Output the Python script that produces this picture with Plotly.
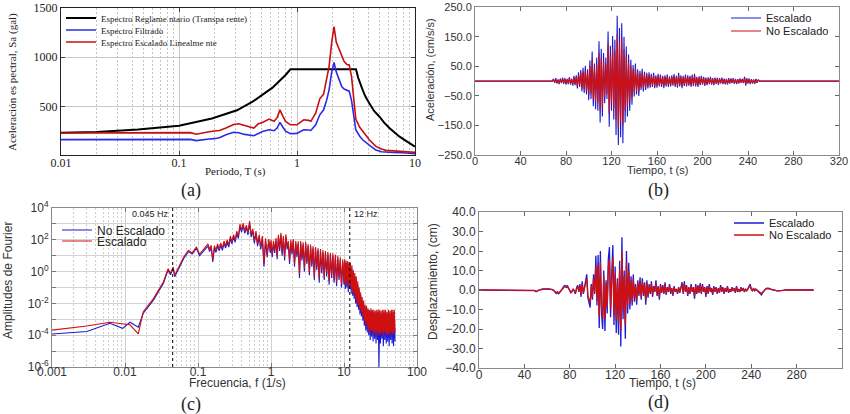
import numpy as np
import plotly.graph_objects as go

W, H = 850, 414
def px(x): return x / W
def py(y): return 1 - y / H

# ---------------- (a) response spectra ----------------
T_code = [0.01, 0.02, 0.045, 0.1, 0.19, 0.31, 0.42, 0.62, 0.80, 0.88, 3.16, 3.3, 3.6, 3.8,
          4.1, 4.5, 5.0, 5.5, 6.1, 6.7, 7.4, 8.2, 9.0, 10.0]
Sa_code = [235, 243, 268, 305, 378, 462, 548, 690, 818, 876, 876, 790, 667, 600,
           532, 455, 397, 335, 280, 235, 195, 160, 128, 95]

T_spec = [0.01, 0.05, 0.1, 0.125, 0.14, 0.155, 0.18, 0.2, 0.22, 0.25, 0.29, 0.32, 0.36, 0.43,
          0.47, 0.51, 0.58, 0.64, 0.68, 0.717, 0.76, 0.80, 0.88, 1.0, 1.08, 1.14, 1.25, 1.31,
          1.44, 1.56, 1.68, 1.78, 1.87, 1.97, 2.06, 2.15, 2.28, 2.4, 2.51, 2.65, 2.77, 2.9,
          3.15, 3.4, 3.6, 4.1, 4.66, 5.2, 5.69, 6.5, 7.9, 9.0, 10.0]
Sa_filtrado = [165, 165, 166, 168, 155, 165, 172, 175, 185, 215, 240, 235, 218, 205,
               228, 248, 265, 255, 285, 339, 290, 250, 225, 228, 250, 265, 262, 258,
               315, 416, 466, 560, 668, 850, 944, 850, 769, 700, 676, 662, 655, 560,
               265, 200, 164, 110, 60, 42, 37, 35, 33, 25, 22]
Sa_escalado = [232, 232, 234, 236, 220, 232, 245, 252, 258, 282, 318, 325, 305, 282,
               325, 339, 373, 350, 390, 466, 400, 350, 315, 315, 345, 366, 360, 350,
               433, 578, 625, 760, 903, 1150, 1306, 1150, 1071, 1000, 954, 925, 920, 802,
               373, 290, 248, 164, 97, 70, 57, 52, 47, 40, 37]

# ---------------- (b) acceleration time histories (t = 68 ... 250 s, 1 s step) ----------------
acc_t_start = 68
acc_escalado = [
    0, 8, -6, 10, -8, 6, -10, 9, -7, 12,
    -9, 10, -12, 8, -10, 14, -12, 9, -15, 18,
    -14, 20, -25, 30, -20, 38, -35, 45, -40, 52,
    -45, 40, -65, 70, -60, 100, -85, 60, -95, 80,
    -100, 135, -140, 110, -120, 95, -75, 80, -60, 168,
    -154, 120, -100, 153, -130, 140, -182, 221, -216, 180,
    -190, 196, -210, 150, -140, 117, -120, 90, -100, 72,
    -80, 55, -52, 60, -45, 40, -50, 35, -30, 42,
    -35, 32, -30, 28, -25, 30, -22, 25, -20, 28,
    -24, 20, -22, 25, -18, 22, -20, 18, -24, 20,
    -18, 22, -20, 16, -18, 20, -15, 24, -20, 18,
    -22, 28, -18, 20, -24, 18, -16, 22, -18, 20,
    -15, 18, -20, 22, -16, 25, -18, 15, -20, 16,
    -14, 18, -12, 15, -16, 12, -14, 13, -10, 15,
    -12, 10, -14, 12, -9, 11, -13, 10, -8, 12,
    -10, 9, -11, 8, -12, 10, -8, 9, -7, 10,
    -9, 8, -10, 7, -8, 9, -6, 8, -7, 15,
    -15, 10, -8, 9, -10, 7, -8, 6, -9, 8,
    -6, 5, 0]
acc_no_escalado = [
    0, 6, -4, 7, -6, 4, -7, 6, -5, 8,
    -6, 7, -8, 6, -7, 10, -8, 6, -10, 13,
    -10, 14, -18, 21, -14, 27, -25, 32, -28, 37,
    -32, 28, -46, 50, -43, 72, -60, 43, -68, 57,
    -71, 96, -100, 78, -86, 68, -54, 57, -43, 125,
    -110, 86, -71, 109, -93, 100, -130, 158, -160, 128,
    -136, 145, -150, 107, -100, 84, -86, 64, -71, 51,
    -57, 39, -37, 43, -32, 29, -36, 25, -21, 30,
    -25, 23, -21, 20, -18, 21, -16, 18, -14, 20,
    -17, 14, -16, 18, -13, 16, -14, 13, -17, 14,
    -13, 16, -14, 11, -13, 14, -11, 17, -14, 13,
    -16, 20, -13, 14, -17, 13, -11, 16, -13, 14,
    -11, 13, -14, 16, -11, 18, -13, 11, -14, 11,
    -10, 13, -9, 11, -11, 9, -10, 9, -7, 11,
    -9, 7, -10, 9, -6, 8, -9, 7, -6, 9,
    -7, 6, -8, 6, -9, 7, -6, 6, -5, 7,
    -6, 6, -7, 5, -6, 6, -4, 6, -5, 11,
    -11, 7, -6, 6, -7, 5, -6, 4, -6, 6,
    -4, 4, 0]
acc_t_end = 320

# ---------------- (c) Fourier amplitude spectra ----------------
f_low = [0.001, 0.003, 0.0062, 0.0093, 0.0117, 0.0152, 0.0178, 0.0245, 0.0335, 0.039,
         0.042, 0.0457, 0.048, 0.056, 0.064, 0.074, 0.083, 0.095, 0.105, 0.115]
fa_no_esc_low = [1.2e-4, 1.7e-4, 5.6e-4, 2.7e-4, 6.5e-4, 3.2e-4, 2.4e-3, 1.6e-2, 0.18, 1.3,
                 0.63, 1.6, 0.48, 2.0, 6.9, 18, 12.6, 29, 10, 16]
fa_esc_low = [2.1e-4, 3.8e-4, 6.5e-4, 5.0e-4, 4.5e-4, 1.2e-4, 3.0e-3, 2.0e-2, 0.22, 1.5,
              0.8, 1.9, 0.6, 2.5, 8.5, 22, 15, 35, 13, 20]
# band sampled at log-spaced frequencies 0.137-0.98 Hz
fa_no_esc_b1 = [40, 18, 32, 4, 30, 16, 40, 20, 45, 22, 60, 30, 70, 35, 120, 55, 150, 70, 250, 120,
                700, 300, 800, 250, 600, 200, 1100, 150, 350, 60, 250, 40, 150, 25, 120, 2, 90, 8, 80, 15]
fa_esc_b1 = [55, 25, 45, 5.5, 42, 22, 56, 28, 63, 30, 84, 42, 98, 49, 170, 77, 210, 98, 350, 170,
             980, 420, 1100, 350, 840, 280, 1500, 210, 490, 84, 350, 56, 210, 35, 170, 3, 125, 11, 110, 21]
# 1-10 Hz
fa_no_esc_b2 = [70, 8, 60, 15, 90, 6, 150, 20, 200, 10, 120, 5, 160, 25, 60, 3, 70, 12, 80, 2,
                60, 8, 55, 0.4, 60, 5, 50, 1.0, 55, 3, 40, 0.6, 35, 2, 28, 0.3, 25, 1.2, 22, 0.2,
                18, 0.8, 16, 0.3, 14, 0.5, 12, 0.15, 11, 0.4, 10, 0.2, 8, 0.12, 7, 0.3, 5, 0.1, 4, 0.15]
fa_esc_b2 = [100, 12, 85, 22, 130, 9, 210, 30, 280, 15, 170, 8, 220, 35, 85, 5, 100, 18, 110, 3,
             85, 12, 80, 0.7, 85, 7, 70, 1.5, 75, 4, 55, 0.9, 50, 3, 40, 0.5, 35, 1.8, 30, 0.35,
             26, 1.2, 23, 0.5, 20, 0.7, 17, 0.25, 15, 0.6, 14, 0.3, 12, 0.2, 10, 0.45, 8, 0.15, 6, 0.2]
# 10.2-50 Hz
fa_no_esc_b3 = [4, 0.08, 3.5, 0.1, 3, 0.05, 3, 0.08, 2.5, 0.04,
                1.5, 0.03, 0.8, 0.02, 0.5, 0.01, 0.3, 0.006, 0.15, 0.004,
                0.06, 0.002, 0.03, 0.0015, 0.015, 0.0008, 0.01, 0.0004, 0.006, 0.0002,
                0.005, 0.00015, 0.004, 0.0001, 0.003, 0.00005, 0.0035, 0.00008, 0.003, 0.00004,
                0.003, 0.00006, 0.0025, 0.00003, 0.003, 0.00005, 0.0028, 0.000001, 0.003, 0.00003,
                0.0025, 0.00006, 0.003, 0.00002, 0.0028, 0.00005, 0.003, 0.00003, 0.0022, 0.00004,
                0.003, 0.00002, 0.0025, 0.00005, 0.003, 0.00003, 0.0028, 0.00002, 0.003, 0.00004]
fa_esc_b3 = [6, 0.15, 5, 0.2, 4.5, 0.1, 4, 0.15, 3.5, 0.08,
             2.5, 0.05, 1.2, 0.04, 0.8, 0.02, 0.5, 0.01, 0.25, 0.008,
             0.1, 0.004, 0.05, 0.003, 0.025, 0.0015, 0.015, 0.0008, 0.008, 0.0005,
             0.007, 0.0003, 0.005, 0.0002, 0.004, 0.00015, 0.005, 0.0002, 0.004, 0.00012,
             0.004, 0.00015, 0.0035, 0.0001, 0.004, 0.00015, 0.004, 0.0001, 0.004, 0.00012,
             0.0035, 0.00015, 0.004, 0.0001, 0.004, 0.00015, 0.004, 0.0001, 0.003, 0.00012,
             0.004, 0.0001, 0.0035, 0.00015, 0.004, 0.0001, 0.004, 0.00012, 0.004, 0.00015]
band_edges = [(0.137, 0.98), (1.0, 10.0), (10.2, 50.0)]
filter_freqs = [0.045, 12]
filter_labels = ["0.045 Hz", "12 Hz"]

# ---------------- (d) displacement time histories (t = 45 ... 272 s, 1 s step) ----------------
disp_t_start = 45
disp_escalado = [
    0, 0, 0, 0, -0.3, -0.8, -0.8, -0.3, 0, 0.3,
    0.5, 0.6, 0.5, 0.5, 0.6, 0.8, 0.8, 0.6, 0.4, 0.3,
    0.2, -0.3, -1.0, -1.8, -1.2, -2.0, -1.5, -0.5, 0.5, 1.0,
    2.0, 2.3, 1.8, 2.2, 1.0, -0.5, -1.5, -0.8, 0.5, -0.5,
    -2.0, 1.0, 2.5, -1.0, 3.0, -3.5, 4.5, -2.0, 1.5, 6.0,
    8.0, -4.0, -6.0, -9.0, 3.0, -5.0, 8.0, -2.0, 17.5, -8.0,
    18.0, -19.5, 20.0, -12.0, -20.0, 10.0, -21.0, 5.0, -12.0, 16.0,
    22.0, -14.0, 8.0, 23.0, -18.0, 12.0, -22.0, 6.0, -23.0, 15.0,
    -29.0, 27.0, -15.0, 10.0, -25.0, 20.0, -12.0, 14.0, -10.0, 7.0,
    -8.0, 8.0, -6.0, 3.0, -7.5, 5.0, -3.0, 6.5, -5.0, 6.0,
    -3.0, 4.0, -7.5, 5.0, -4.0, 3.0, -2.0, 4.5, -3.5, 2.0,
    -1.0, 5.0, -3.0, 2.0, -5.0, 3.0, -1.5, 2.5, -2.0, 4.0,
    -2.5, 1.5, -1.0, 3.0, -2.0, 1.0, -3.0, 2.0, -1.0, 0.5,
    -2.0, 1.5, -1.5, 2.0, 4.0, -2.0, 4.5, -1.0, 2.5, -3.0,
    1.5, -2.0, 3.0, -1.0, 1.5, -4.5, 3.0, -2.0, 2.5, -1.5,
    3.5, -2.0, 3.0, -1.0, 1.5, -3.5, 2.0, -2.0, 3.0, -1.0,
    1.0, -2.5, 2.0, -1.0, 1.5, -2.0, 1.0, -1.5, 2.5, -1.0,
    1.5, -2.0, 1.0, -1.0, 2.0, -1.5, 0.5, -1.0, 1.5, -0.5,
    1.0, -1.5, 2.0, -1.0, 0.5, -1.0, 1.5, -0.5, 1.0, -1.0,
    0.5, -0.5, 1.0, 2.5, 3.0, 0.5, -0.5, 1.0, -0.5, 0.5,
    0.0, -1.0, -1.5, -2.0, -2.5, -1.5, -0.5, 0.3, 0.8, 1.0,
    1.0, 0.8, 0.5, 0.3, 0.0, -0.2, -0.4, -0.5, -0.5, -0.5,
    -0.5, -0.4, -0.3, -0.2, -0.1, 0.0, 0.0, 0.0]
disp_no_escalado = [
    0, 0, 0, 0, -0.2, -0.6, -0.6, -0.2, 0, 0.2,
    0.4, 0.4, 0.4, 0.4, 0.4, 0.6, 0.6, 0.4, 0.3, 0.2,
    0.1, -0.2, -0.7, -1.3, -0.9, -1.4, -1.1, -0.4, 0.4, 0.7,
    1.4, 1.7, 1.3, 1.6, 0.7, -0.4, -1.1, -0.6, 0.4, -0.4,
    -1.4, 0.7, 1.8, -0.7, 2.2, -2.5, 3.2, -1.4, 1.1, 4.3,
    5.8, -2.9, -4.3, -6.5, 2.2, -3.6, 5.8, -1.4, 12.6, -5.8,
    13.0, -14.0, 14.4, -8.6, -14.4, 7.2, -15.1, 3.6, -8.6, 11.5,
    15.8, -10.1, 5.8, 16.6, -13.0, 8.6, -15.8, 4.3, -16.6, 10.8,
    -20.9, 19.4, -10.8, 7.2, -18.0, 14.4, -8.6, 10.1, -7.2, 5.0,
    -5.8, 5.8, -4.3, 2.2, -5.4, 3.6, -2.2, 4.7, -3.6, 4.3,
    -2.2, 2.9, -5.4, 3.6, -2.9, 2.2, -1.4, 3.2, -2.5, 1.4,
    -0.7, 3.6, -2.2, 1.4, -3.6, 2.2, -1.1, 1.8, -1.4, 2.9,
    -1.8, 1.1, -0.7, 2.2, -1.4, 0.7, -2.2, 1.4, -0.7, 0.4,
    -1.4, 1.1, -1.1, 1.4, 2.9, -1.4, 3.2, -0.7, 1.8, -2.2,
    1.1, -1.4, 2.2, -0.7, 1.1, -3.2, 2.2, -1.4, 1.8, -1.1,
    2.5, -1.4, 2.2, -0.7, 1.1, -2.5, 1.4, -1.4, 2.2, -0.7,
    0.7, -1.8, 1.4, -0.7, 1.1, -1.4, 0.7, -1.1, 1.8, -0.7,
    1.1, -1.4, 0.7, -0.7, 1.4, -1.1, 0.4, -0.7, 1.1, -0.4,
    0.7, -1.1, 1.4, -0.7, 0.4, -0.7, 1.1, -0.4, 0.7, -0.7,
    0.4, -0.4, 0.7, 1.8, 2.2, 0.4, -0.4, 0.7, -0.4, 0.4,
    0.0, -0.7, -1.1, -1.4, -1.8, -1.1, -0.4, 0.2, 0.6, 0.7,
    0.7, 0.6, 0.4, 0.2, 0.0, -0.1, -0.3, -0.4, -0.4, -0.4,
    -0.4, -0.3, -0.2, -0.1, -0.1, 0.0, 0.0, 0.0]
disp_t_end = 295

# ---------------- styles ----------------
BLUE = "#1a1ad6"
RED = "#d01010"
SERIF = "Liberation Serif"
SANS = "Liberation Sans"

def series_time(t0, vals, t_end):
    t = [0, t0 - 1] + [t0 + i for i in range(len(vals))] + [t0 + len(vals), t_end]
    v = [0, 0] + list(vals) + [0, 0]
    return t, v

def band_freqs(edges, n):
    return list(np.geomspace(edges[0], edges[1], n))

f_all = (f_low + band_freqs(band_edges[0], len(fa_no_esc_b1))
         + band_freqs(band_edges[1], len(fa_no_esc_b2))
         + band_freqs(band_edges[2], len(fa_no_esc_b3)))
fa_no_esc = fa_no_esc_low + fa_no_esc_b1 + fa_no_esc_b2 + fa_no_esc_b3
fa_esc = fa_esc_low + fa_esc_b1 + fa_esc_b2 + fa_esc_b3

fig = go.Figure()

def add(x, y, name, color, width, xa, ya, leg):
    fig.add_trace(go.Scatter(x=x, y=y, mode="lines", line=dict(color=color, width=width),
                             name=name, xaxis=xa, yaxis=ya, legend=leg, showlegend=True))

# (a)
add(T_code, Sa_code, "Espectro Reglame ntario (Transpa rente)", "black", 2, "x", "y", "legend")
add(T_spec, Sa_filtrado, "Espectro Filtrado", "#2a2ae8", 1.6, "x", "y", "legend2")
add(T_spec, Sa_escalado, "Espectro Escalado Linealme nte", "#c80f0f", 1.6, "x", "y", "legend3")

# (b)
tb, vb = series_time(acc_t_start, acc_escalado, acc_t_end)
tb2, vb2 = series_time(acc_t_start, acc_no_escalado, acc_t_end)
add(tb, vb, "Escalado", BLUE, 1.1, "x2", "y2", "legend4")
add(tb2, vb2, "No Escalado", RED, 1.1, "x2", "y2", "legend5")

# (c)
add(f_all, fa_no_esc, "No Escalado", BLUE, 1.1, "x3", "y3", "legend6")
add(f_all, fa_esc, "Escalado", RED, 1.1, "x3", "y3", "legend7")

# (d)
td, vd = series_time(disp_t_start, disp_escalado, disp_t_end)
td2, vd2 = series_time(disp_t_start, disp_no_escalado, disp_t_end)
add(td, vd, "Escalado", BLUE, 1.3, "x4", "y4", "legend8")
add(td2, vd2, "No Escalado", RED, 1.3, "x4", "y4", "legend9")

def minor_log(d0, d1):
    return [k * 10.0 ** e for e in range(d0, d1) for k in range(2, 10)]

GRID = "#d2d2d2"
frame_a = dict(showline=True, linecolor="#222", linewidth=1, mirror="ticks", ticks="inside",
               ticklen=4, tickcolor="#444", zeroline=False, automargin=False)
frame_t = dict(showline=True, linecolor="#8a8a8a", linewidth=1, mirror="ticks", ticks="inside",
               ticklen=4, tickcolor="#666", zeroline=False, showgrid=False, automargin=False)
frame_c = dict(showline=True, linecolor="#8a8a8a", linewidth=1, mirror="ticks", ticks="inside",
               ticklen=4, tickcolor="#777", zeroline=False, automargin=False)

def leg(x_text, y_row, family, size):
    return dict(x=px(x_text - 41), y=py(y_row), xanchor="left", yanchor="middle",
                bgcolor="rgba(0,0,0,0)", borderwidth=0,
                font=dict(family=family, size=size, color="#222"), tracegroupgap=0)

fig.update_layout(
    template="none", showlegend=True,
    width=W, height=H, margin=dict(l=0, r=0, t=0, b=0, autoexpand=False),
    paper_bgcolor="white", plot_bgcolor="white",
    xaxis=dict(domain=[px(61), px(415)], anchor="y", type="log", range=[-2, 1],
               tickvals=[0.01, 0.1, 1, 10], ticktext=["0.01", "0.1", "1", "10"],
               showgrid=True, gridcolor="#c8c8c8", ticklabelstandoff=-3,
               minor=dict(tickvals=minor_log(-2, 1), showgrid=True, griddash="2px,2px",
                          gridcolor="#c4c4c4", ticks=""),
               tickfont=dict(family=SERIF, size=12, color="#222"), **frame_a),
    yaxis=dict(domain=[py(155), py(7.5)], anchor="x", range=[10, 1500],
               tickvals=[500, 1000, 1500], showgrid=True, gridcolor="#c8c8c8",
               tickfont=dict(family=SERIF, size=12, color="#222"), **frame_a),
    xaxis2=dict(domain=[px(475), px(839)], anchor="y2", range=[0, 320],
                tickvals=list(range(0, 321, 40)), ticklabelstandoff=-4,
                tickfont=dict(family=SANS, size=11, color="#333"), **frame_t),
    yaxis2=dict(domain=[py(155), py(7.3)], anchor="x2", range=[-250, 250],
                tickvals=[-250, -150, -50, 50, 150, 250], tickformat=".1f",
                tickfont=dict(family=SANS, size=11, color="#333"), **frame_t),
    xaxis3=dict(domain=[px(52), px(417)], anchor="y3", type="log", range=[-3, 2],
                tickvals=[0.001, 0.01, 0.1, 1, 10, 100],
                ticktext=["0.001", "0.01", "0.1", "1", "10", "100"],
                showgrid=True, gridcolor=GRID, ticklabelstandoff=-6,
                minor=dict(tickvals=minor_log(-3, 2), showgrid=True, griddash="2px,2px",
                           gridcolor="#cdcdcd", ticks=""),
                tickfont=dict(family=SANS, size=12, color="#333"), **frame_c),
    yaxis3=dict(domain=[py(367), py(208)], anchor="x3", type="log", range=[-6, 4],
                tickvals=[1e-6, 1e-4, 1e-2, 1, 1e2, 1e4],
                ticktext=["10<sup>-6</sup>", "10<sup>-4</sup>", "10<sup>-2</sup>",
                          "10<sup>0</sup>", "10<sup>2</sup>", "10<sup>4</sup>"],
                showgrid=True, gridcolor=GRID,
                minor=dict(tickvals=[1e-5, 1e-3, 1e-1, 1e1, 1e3], showgrid=True,
                           gridcolor=GRID, ticks="inside", ticklen=4, tickcolor="#777"),
                tickfont=dict(family=SANS, size=12, color="#333"), **frame_c),
    xaxis4=dict(domain=[px(479), px(842)], anchor="y4", range=[0, 320],
                tickvals=list(range(0, 321, 40)), ticklabelstandoff=-4,
                tickfont=dict(family=SANS, size=12, color="#333"), **frame_t),
    yaxis4=dict(domain=[py(368), py(212)], anchor="x4", range=[-40, 40],
                tickvals=list(range(-40, 41, 10)), tickformat=".1f",
                tickfont=dict(family=SANS, size=12, color="#333"), **frame_t),
    legend=leg(102, 18, SERIF, 9),
    legend2=leg(102, 30, SERIF, 9),
    legend3=leg(102, 42, SERIF, 9),
    legend4=leg(767, 18, SANS, 11),
    legend5=leg(767, 31, SANS, 11),
    legend6=leg(98, 230, SANS, 12),
    legend7=leg(98, 241, SANS, 12),
    legend8=leg(770, 223, SANS, 11),
    legend9=leg(770, 235, SANS, 11),
)

# filter cut-off markers in (c)
for f, lab in zip(filter_freqs, filter_labels):
    fig.add_shape(type="line", xref="x3", yref="y3 domain", x0=f, x1=f, y0=0, y1=1,
                  line=dict(color="black", width=1, dash="dot"))
    right = f < 1
    fig.add_annotation(xref="x3", yref="paper", x=np.log10(f), y=py(214),
                       text=lab, showarrow=False, xanchor="right" if right else "left",
                       xshift=-2 if right else 2, font=dict(family=SANS, size=9, color="#222"))

def ann(x, y, text, size, family, angle=0, color="#222"):
    fig.add_annotation(xref="paper", yref="paper", x=px(x), y=py(y), text=text,
                       showarrow=False, textangle=angle, xanchor="center", yanchor="middle",
                       font=dict(family=family, size=size, color=color))

# axis titles
ann(12, 82, "Aceleración es pectral, Sa (gal)", 11, SERIF, -90)
ann(235, 171, "Periodo, T (s)", 11, SERIF)
ann(430, 70, "Aceleración, (cm/s/s)", 11, SANS, -90, "#333")
ann(657, 170, "Tiempo, t (s)", 11, SANS, 0, "#333")
ann(8, 281, "Amplitudes de Fourier", 12, SANS, -90, "#333")
ann(237, 383, "Frecuencia, f (1/s)", 12, SANS, 0, "#333")
ann(433, 282, "Desplazamiento, (cm)", 12, SANS, -90, "#333")
ann(662, 383, "Tiempo, t (s)", 12, SANS, 0, "#333")

# panel labels
ann(191, 190, "(a)", 18, SERIF)
ann(658, 190, "(b)", 18, SERIF)
ann(191, 404, "(c)", 18, SERIF)
ann(658, 402, "(d)", 18, SERIF)

fig.write_html("out.html", config={"displayModeBar": False},
               post_script="document.body.style.margin='0px';")
